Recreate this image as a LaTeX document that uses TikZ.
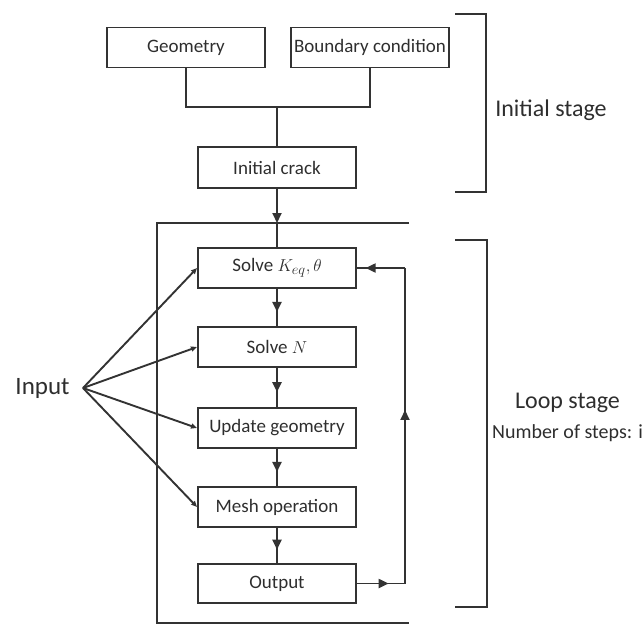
\documentclass[tikz,border=0pt]{standalone}
\usepackage{fontspec}
\setmainfont{Carlito}
\usetikzlibrary{arrows.meta,decorations.markings}
\definecolor{ink}{HTML}{333333}
\definecolor{txt}{HTML}{2E2E2E}
\tikzset{
  stepbox/.style={draw=ink, line width=1.9pt, minimum width=158pt, minimum height=40pt, inner sep=0pt, font=\fontsize{19}{21}\selectfont, text=txt},
  conn/.style={draw=ink, line width=1.9pt},
  midarrow/.style={postaction={decorate}, decoration={markings, mark=at position #1 with {\arrow{Triangle[length=10pt,width=9pt]}}}},
  endarrow/.style={-{Triangle[length=10pt,width=9pt]}},
  smallarrow/.style={-{Triangle[length=6pt,width=5pt]}},
  lbl/.style={text=txt, inner sep=0pt}
}
\begin{document}
\begin{tikzpicture}[x=1pt,y=-1pt]
\useasboundingbox (0,0) rectangle (643,625);
% initial stage boxes
\node[stepbox] (geo) at (186,47.5) {Geometry};
\node[stepbox] (bc) at (370,47.5) {Boundary condition};
\node[stepbox, minimum height=41pt] (ic) at (277,167.5) {Initial crack};
\coordinate (j) at (277,107);
\draw[conn] (geo.south) |- (j) -| (bc.south);
\draw[conn] (j) -- (ic.north);
% loop frame
\coordinate (ftl) at (157,223);
\coordinate (ftr) at (409,223);
\coordinate (fbl) at (157,623);
\coordinate (fbr) at (409,623);
\coordinate (ftop) at (277,223);
\draw[conn] (ftr) -- (ftl) -- (fbl) -- (fbr);
% loop boxes
\node[stepbox] (sk) at (277,268) {Solve $K_{eq}, \theta$};
\node[stepbox] (sn) at (277,347) {Solve $N$};
\node[stepbox] (ug) at (277,428) {Update geometry};
\node[stepbox] (mo) at (277,507) {Mesh operation};
\node[stepbox, minimum height=39pt] (out) at (277,583.5) {Output};
\draw[conn, endarrow] (ic.south) -- (ftop);
\draw[conn] (ftop) -- (sk.north);
\draw[conn, midarrow=0.62] (sk.south) -- (sn.north);
\draw[conn, midarrow=0.62] (sn.south) -- (ug.north);
\draw[conn, midarrow=0.62] (ug.south) -- (mo.north);
\draw[conn, midarrow=0.62] (mo.south) -- (out.north);
% feedback
\coordinate (fr1) at (405,583.5);
\coordinate (fr2) at (405,268);
\draw[conn, midarrow=0.66] (out.east) -- (fr1);
\draw[conn, midarrow=0.55] (fr1) -- (fr2);
\draw[conn, midarrow=0.82] (fr2) -- (sk.east);
% input
\node[lbl, font=\fontsize{25}{27}\selectfont] (input) at (42.5,388) {Input};
\coordinate (inp) at (83,388);
\draw[conn, smallarrow] (inp) -- (sk.west);
\draw[conn, smallarrow] (inp) -- (sn.west);
\draw[conn, smallarrow] (inp) -- (ug.west);
\draw[conn, smallarrow] (inp) -- (mo.west);
% brackets
\coordinate (b1a) at (455,14);
\coordinate (b1b) at (486,14);
\coordinate (b1c) at (486,192);
\coordinate (b1d) at (455,192);
\draw[conn] (b1a) -- (b1b) -- (b1c) -- (b1d);
\coordinate (b2a) at (455,240);
\coordinate (b2b) at (487,240);
\coordinate (b2c) at (487,607);
\coordinate (b2d) at (455,607);
\draw[conn] (b2a) -- (b2b) -- (b2c) -- (b2d);
\node[lbl, font=\fontsize{24}{26}\selectfont] (is) at (551,110) {Initial stage};
\node[lbl, font=\fontsize{24}{26}\selectfont] (ls) at (567.5,403) {Loop stage};
\node[lbl, font=\fontsize{20}{22}\selectfont] (ns) at (567.5,433) {Number of steps: i};
\end{tikzpicture}
\end{document}
